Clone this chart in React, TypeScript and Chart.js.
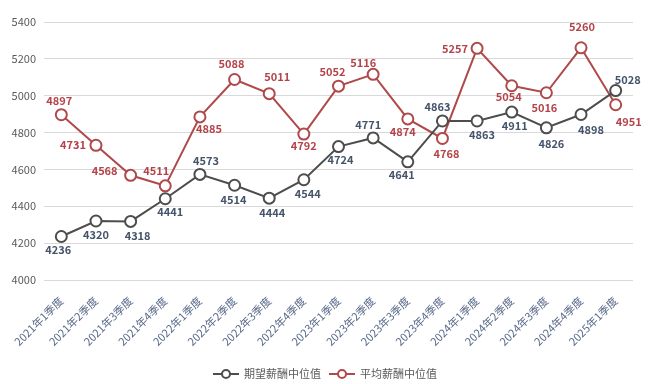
import React, { useEffect, useRef } from "react";
import { Chart, registerables } from "chart.js";

Chart.register(...registerables);

const categories = [
  "2021年1季度", "2021年2季度", "2021年3季度", "2021年4季度",
  "2022年1季度", "2022年2季度", "2022年3季度", "2022年4季度",
  "2023年1季度", "2023年2季度", "2023年3季度", "2023年4季度",
  "2024年1季度", "2024年2季度", "2024年3季度", "2024年4季度",
  "2025年1季度",
];

const expectedName = "期望薪酬中位值";
const expectedValues = [4236, 4320, 4318, 4441, 4573, 4514, 4444, 4544, 4724, 4771, 4641, 4863, 4863, 4911, 4826, 4898, 5028];

const averageName = "平均薪酬中位值";
const averageValues = [4897, 4731, 4568, 4511, 4885, 5088, 5011, 4792, 5052, 5116, 4874, 4768, 5257, 5054, 5016, 5260, 4951];

const yMin = 4000;
const yMax = 5400;
const yStep = 200;

// label offsets (style only), [dx, dy] from the point centre
const expectedLabelOffsets = [
  [-3, 13], [0, 14], [7, 14], [5, 13], [6, -14], [-1, 15], [3, 15], [4, 14], [2, 13],
  [-5, -13], [-6, 13], [-5, -14], [5, 14], [3, 14], [5, 16], [10, 15], [12, -11],
];
const averageLabelOffsets = [
  [-2, -14], [-23, 0], [-26, -5], [-9, -15], [9, 12], [-3, -16], [8, -17], [0, 12], [-6, -14],
  [-10, -12], [-5, 13], [4, 15], [-22, 0], [-3, 11], [-2, 15], [1, -21], [13, 17],
];

const GRAY = "#4d4d4d";
const RED = "#b04a4a";
const GRAY_TEXT = "#44546a";
const RED_TEXT = "#b4434a";
const FONT = "'Microsoft YaHei', 'Noto Sans CJK SC', 'Noto Sans', sans-serif";

export default function App() {
  const ref = useRef<HTMLCanvasElement | null>(null);

  useEffect(() => {
    document.body.style.margin = "0";
    const canvas = ref.current;
    if (!canvas) return;

    const labelPlugin = {
      id: "pointLabels",
      afterDatasetsDraw(chart: any) {
        const ctx = chart.ctx;
        ctx.save();
        ctx.font = `bold 11px ${FONT}`;
        ctx.textAlign = "center";
        ctx.textBaseline = "middle";
        const offsets = [expectedLabelOffsets, averageLabelOffsets];
        const colors = [GRAY_TEXT, RED_TEXT];
        chart.data.datasets.forEach((ds: any, di: number) => {
          const meta = chart.getDatasetMeta(di);
          ctx.fillStyle = colors[di];
          meta.data.forEach((pt: any, i: number) => {
            const [dx, dy] = offsets[di][i];
            ctx.fillText(String(ds.data[i]), pt.x + dx, pt.y + dy);
          });
        });
        ctx.restore();
      },
    };

    const legendPlugin = {
      id: "customLegend",
      afterDraw(chart: any) {
        const ctx = chart.ctx;
        ctx.save();
        ctx.font = `11px ${FONT}`;
        ctx.textBaseline = "middle";
        const items = [
          { text: expectedName, color: GRAY },
          { text: averageName, color: RED },
        ];
        const sym = 26;
        const gap = 5;
        const between = 8;
        const widths = items.map((it) => sym + gap + ctx.measureText(it.text).width);
        const total = widths.reduce((a, b) => a + b, 0) + between * (items.length - 1);
        let x = chart.width / 2 - total / 2;
        const y = 374;
        items.forEach((it, i) => {
          ctx.strokeStyle = it.color;
          ctx.lineWidth = 2;
          ctx.beginPath();
          ctx.moveTo(x, y);
          ctx.lineTo(x + sym, y);
          ctx.stroke();
          ctx.beginPath();
          ctx.arc(x + sym / 2, y, 4, 0, Math.PI * 2);
          ctx.fillStyle = "#ffffff";
          ctx.fill();
          ctx.stroke();
          ctx.fillStyle = "#595959";
          ctx.textAlign = "left";
          ctx.fillText(it.text, x + sym + gap, y);
          x += widths[i] + between;
        });
        ctx.restore();
      },
    };

    const chart = new Chart(canvas, {
      type: "line",
      data: {
        labels: categories,
        datasets: [
          {
            label: expectedName,
            data: expectedValues,
            borderColor: GRAY,
            backgroundColor: "#ffffff",
            borderWidth: 2,
            pointRadius: 5.5,
            pointBorderWidth: 2,
            pointBackgroundColor: "#ffffff",
            pointBorderColor: GRAY,
            tension: 0,
          },
          {
            label: averageName,
            data: averageValues,
            borderColor: RED,
            backgroundColor: "#ffffff",
            borderWidth: 2,
            pointRadius: 5.5,
            pointBorderWidth: 2,
            pointBackgroundColor: "#ffffff",
            pointBorderColor: RED,
            tension: 0,
          },
        ],
      },
      options: {
        responsive: false,
        animation: false,
        devicePixelRatio: 1,
        layout: { padding: { top: 22, right: 17, bottom: 28, left: 0 } },
        plugins: {
          legend: { display: false },
          tooltip: { enabled: false },
        },
        scales: {
          x: {
            offset: true,
            grid: { display: false },
            border: { display: false },
            ticks: {
              minRotation: 45,
              maxRotation: 45,
              autoSkip: false,
              padding: 6,
              color: "#5a6a8a",
              font: { family: FONT, size: 11 },
            },
            afterFit: (s: any) => {
              s.height = 76;
            },
          },
          y: {
            min: yMin,
            max: yMax,
            border: { display: false },
            grid: { color: "#d9d9d9", drawTicks: false },
            ticks: {
              stepSize: yStep,
              padding: 8,
              color: "#595959",
              font: { family: FONT, size: 11 },
              callback: (v: any) => String(v),
            },
            afterFit: (s: any) => {
              s.width = 44;
            },
          },
        },
      },
      plugins: [labelPlugin, legendPlugin],
    } as any);

    return () => chart.destroy();
  }, []);

  return <canvas ref={ref} width={650} height={384} style={{ display: "block" }} />;
}
